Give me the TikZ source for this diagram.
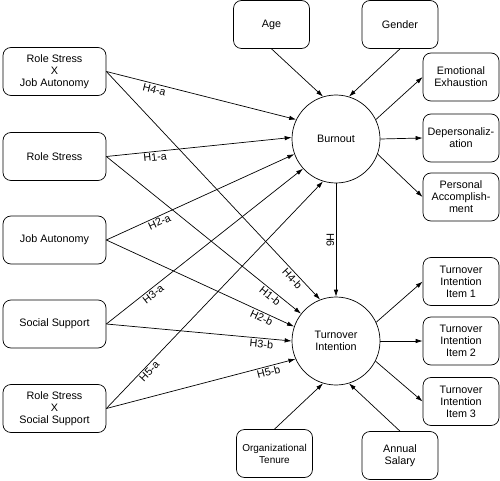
\documentclass[tikz,border=0pt]{standalone}
\usepackage{fontspec}
\setmainfont{Liberation Sans}
\usetikzlibrary{arrows.meta}

\begin{document}
\begin{tikzpicture}[x=1pt,y=-1pt,
    every node/.style={font=\fontsize{10.8}{12}\selectfont},
    box/.style={draw,rounded corners=8pt,align=center,minimum width=103pt,minimum height=48pt,inner sep=2pt,line width=0.7pt},
    sbox/.style={box,minimum width=76pt},
    latent/.style={draw,circle,minimum size=88pt,align=center,inner sep=0pt,line width=0.7pt},
    link/.style={-{Latex[length=7pt,width=4.5pt]},line width=0.7pt},
    hyp/.style={sloped,below,inner sep=1.5pt}]
    \useasboundingbox (0,0) rectangle (500,481);
    % exogenous constructs
    \node[box] (rsja) at (54.5,71.5) {Role Stress\\X\\Job Autonomy};
    \node[box] (rs) at (54.5,156.5) {Role Stress};
    \node[box] (ja) at (54.5,240) {Job Autonomy};
    \node[box] (ss) at (54.5,324) {Social Support};
    \node[box] (rsss) at (54.5,408.5) {Role Stress\\X\\Social Support};
    % controls
    \node[sbox] (age) at (271.5,24.5) {Age};
    \node[sbox] (gender) at (400,24.5) {Gender};
    \node[sbox,font=\fontsize{10}{12}\selectfont] (tenure) at (274.5,453.5) {Organizational\\Tenure};
    \node[sbox] (salary) at (400,455.5) {Annual\\Salary};
    % latent constructs and items
    \node[latent] (burnout) at (336,139) {Burnout};
    \node[latent] (ti) at (336,341) {Turnover\\Intention};
    \node[sbox] (ee) at (461,77) {Emotional\\Exhaustion};
    \node[sbox] (dp) at (461,138) {Depersonaliz-\\ation};
    \node[sbox] (pa) at (461,197) {Personal\\Accomplish-\\ment};
    \node[sbox] (ti1) at (461,281.5) {Turnover\\Intention\\Item 1};
    \node[sbox] (ti2) at (461,341) {Turnover\\Intention\\Item 2};
    \node[sbox] (ti3) at (461,401.5) {Turnover\\Intention\\Item 3};
    % hypotheses
    \draw[link] (rsja.east) -- node[hyp,pos=.26] {H4-a} (burnout.154);
    \draw[link] (rsja.east) -- node[hyp,pos=.89] {H4-b} (ti.111);
    \draw[link] (rs.east) -- node[hyp,pos=.26] {H1-a} (burnout.178);
    \draw[link] (rs.east) -- node[hyp,pos=.86] {H1-b} (ti.142);
    \draw[link] (ja.east) -- node[hyp,pos=.27] {H2-a} (burnout.200);
    \draw[link] (ja.east) -- node[hyp,pos=.84] {H2-b} (ti.161);
    \draw[link] (ss.east) -- node[hyp,pos=.22] {H3-a} (burnout.222);
    \draw[link] (ss.east) -- node[hyp,pos=.84] {H3-b} (ti.180);
    \draw[link] (rsss.east) -- node[hyp,pos=.18] {H5-a} (burnout.253);
    \draw[link] (rsss.east) -- node[hyp,pos=.85] {H5-b} (ti.204);
    \draw[link] (burnout) -- node[rotate=-90,anchor=north,inner sep=1.5pt] {H6} (ti);
    % controls and measurement
    \draw[link] (age.south) -- (burnout.107);
    \draw[link] (gender.south) -- (burnout.73);
    \draw[link] (tenure.north) -- (ti.253);
    \draw[link] (salary.north) -- (ti.287);
    \draw[link] (burnout.26) -- (ee.west);
    \draw[link] (burnout.0) -- (dp.west);
    \draw[link] (burnout.-20) -- (pa.west);
    \draw[link] (ti.25) -- (ti1.west);
    \draw[link] (ti.0) -- (ti2.west);
    \draw[link] (ti.-27) -- (ti3.west);
\end{tikzpicture}
\end{document}
